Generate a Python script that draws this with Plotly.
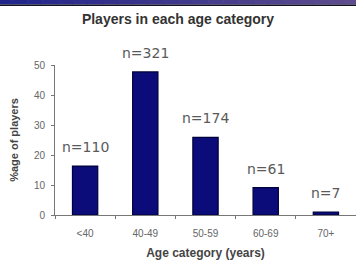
import plotly.graph_objects as go

categories = ["<40", "40-49", "50-59", "60-69", "70+"]
counts = [110, 321, 174, 61, 7]
percent = [16.3, 47.7, 25.9, 9.1, 1.0]
y_ticks = [0, 10, 20, 30, 40, 50]

FONT = "Liberation Sans, Arial, sans-serif"

fig = go.Figure()
fig.add_trace(go.Bar(
    x=categories, y=percent,
    marker=dict(color="#0b0b7a", line=dict(color="#00003a", width=1.2)),
    hoverinfo="skip",
))

for c, p, n in zip(categories, percent, counts):
    fig.add_annotation(x=c, y=p, text=f"n={n}", showarrow=False,
                       yanchor="middle", yshift=19,
                       font=dict(family="DejaVu Sans, sans-serif", size=14, color="#5a5a5a"))

# top gradient band
steps = 24
c0 = (0x22, 0x26, 0x8a)
c1 = (0x5e, 0x4c, 0x8e)
x_left = -55 / 301 - 0.01
x_right = 1.01
for i in range(steps):
    t = i / (steps - 1)
    col = "rgb({},{},{})".format(*[int(a + (b - a) * t) for a, b in zip(c0, c1)])
    xa = x_left + (x_right - x_left) * i / steps
    xb = x_left + (x_right - x_left) * (i + 1) / steps + 0.002
    fig.add_shape(type="rect", xref="paper", yref="paper",
                  x0=xa, x1=xb, y0=(215 - 4.5) / 150, y1=215 / 150 + 0.01,
                  fillcolor=col, line=dict(width=0), layer="above")
fig.add_shape(type="rect", xref="paper", yref="paper",
              x0=x_left, x1=x_right, y0=(215 - 6) / 150, y1=(215 - 4.5) / 150,
              fillcolor="#111122", line=dict(width=0), layer="above")

fig.update_layout(
    width=356, height=262,
    margin=dict(l=55, r=0, t=65, b=47),
    paper_bgcolor="white", plot_bgcolor="white",
    bargap=0.58,
    showlegend=False,
    title=dict(text="<b>Players in each age category</b>", x=0.5, xanchor="center",
               y=1 - 19 / 262, yanchor="middle",
               font=dict(family=FONT, size=14, color="#333333")),
    xaxis=dict(
        type="category", range=[-0.5, 4.5],
        showline=True, linecolor="#777777", linewidth=1,
        ticks="outside", tickson="boundaries", ticklen=3, tickcolor="#777777",
        ticklabelstandoff=9,
        tickfont=dict(family=FONT, size=10, color="#666666"),
        title=dict(text="<b>Age category (years)</b>", standoff=10,
                   font=dict(family=FONT, size=12, color="#444444")),
        showgrid=False, fixedrange=True, automargin=False,
    ),
    yaxis=dict(
        range=[0, 50], tickvals=y_ticks,
        showline=True, linecolor="#777777", linewidth=1,
        ticks="outside", ticklen=3, tickcolor="#777777",
        ticklabelstandoff=4,
        tickfont=dict(family=FONT, size=10, color="#666666"),
        title=dict(text="<b>%age of players</b>", standoff=13,
                   font=dict(family=FONT, size=11, color="#444444")),
        showgrid=False, zeroline=False, fixedrange=True, automargin=False,
    ),
)

fig.write_html("out.html", config={"displayModeBar": False},
               post_script="document.body.style.margin='0';document.body.style.overflow='hidden';")
